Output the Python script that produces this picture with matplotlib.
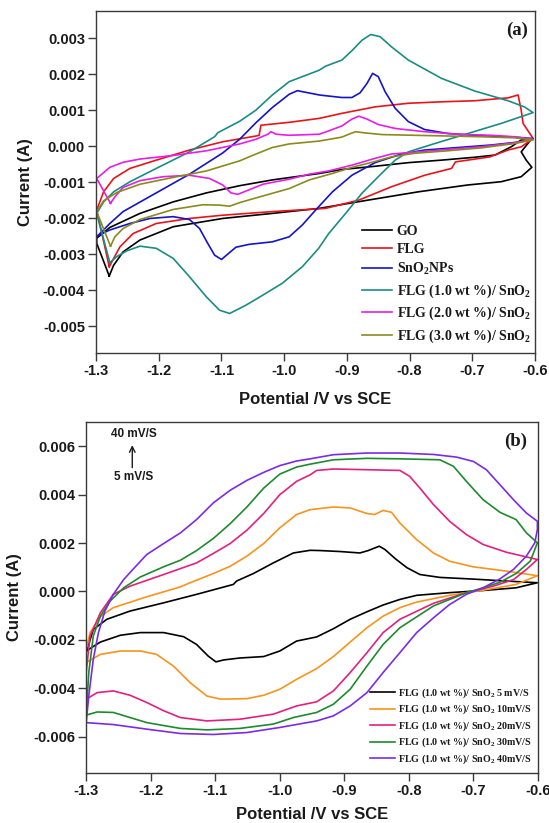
import matplotlib

matplotlib.use("Agg")
import matplotlib.pyplot as plt
import numpy as np

# ---- panel (a): potential (V) / current (mA), traced around each CV loop ----
GO_V = [-1.279, -1.299, -1.299, -1.278, -1.230, -1.177, -1.124, -1.071, -1.019, -0.944,
        -0.908, -0.855, -0.802, -0.749, -0.696, -0.664, -0.638, -0.622, -0.606, -0.622,
        -0.614, -0.605, -0.622, -0.654, -0.707, -0.786, -0.866, -0.944, -1.019, -1.098,
        -1.177, -1.230, -1.257, -1.272, -1.279]
GO_I = [-3.61, -2.70, -2.56, -2.26, -1.87, -1.55, -1.30, -1.10, -0.94, -0.76,
        -0.65, -0.56, -0.46, -0.39, -0.31, -0.25, -0.02, 0.17, 0.19, -0.16,
        -0.39, -0.59, -0.85, -0.99, -1.08, -1.27, -1.50, -1.73, -1.87, -2.01,
        -2.24, -2.61, -2.94, -3.31, -3.61]

FLG_V = [-1.279, -1.299, -1.288, -1.272, -1.246, -1.204, -1.151, -1.098, -1.045, -1.040,
         -1.037, -0.992, -0.944, -0.908, -0.855, -0.802, -0.749, -0.696, -0.643, -0.627,
         -0.622, -0.619, -0.603, -0.622, -0.643, -0.672, -0.727, -0.733, -0.776, -0.829,
         -0.881, -0.934, -1.019, -1.098, -1.151, -1.204, -1.241, -1.262, -1.279]
FLG_I = [-3.35, -1.78, -1.27, -0.90, -0.62, -0.39, -0.11, 0.12, 0.28, 0.30,
         0.58, 0.66, 0.77, 0.91, 1.09, 1.19, 1.23, 1.26, 1.34, 1.42,
         1.00, 0.63, 0.21, -0.02, -0.11, -0.30, -0.44, -0.62, -0.81, -1.13,
         -1.50, -1.73, -1.82, -1.92, -2.01, -2.15, -2.43, -2.80, -3.35]

SNO2_V = [-1.299, -1.278, -1.257, -1.204, -1.151, -1.098, -1.071, -1.045, -1.019, -0.992,
          -0.979, -0.944, -0.934, -0.908, -0.892, -0.879, -0.868, -0.859, -0.850, -0.839,
          -0.823, -0.802, -0.776, -0.739, -0.686, -0.633, -0.603, -0.622, -0.670, -0.723,
          -0.776, -0.813, -0.855, -0.892, -0.923, -0.950, -0.971, -0.992, -1.019, -1.056,
          -1.077, -1.090, -1.100, -1.111, -1.122, -1.135, -1.151, -1.177, -1.214, -1.246,
          -1.278, -1.299]
SNO2_I = [-2.52, -2.15, -1.82, -1.30, -0.78, -0.19, 0.19, 0.65, 1.07, 1.44,
          1.54, 1.42, 1.40, 1.35, 1.35, 1.48, 1.74, 2.02, 1.93, 1.51,
          1.05, 0.68, 0.46, 0.35, 0.29, 0.25, 0.21, 0.12, 0.03, -0.04,
          -0.11, -0.22, -0.46, -0.81, -1.27, -1.78, -2.19, -2.52, -2.66, -2.73,
          -2.81, -3.00, -3.15, -3.03, -2.70, -2.29, -2.04, -1.96, -2.01, -2.15,
          -2.33, -2.50]

F10_V = [-1.278, -1.299, -1.288, -1.272, -1.246, -1.204, -1.151, -1.111, -1.106, -1.071,
         -1.045, -1.019, -0.992, -0.944, -0.934, -0.908, -0.892, -0.876, -0.862, -0.847,
         -0.829, -0.802, -0.749, -0.696, -0.643, -0.617, -0.603, -0.654, -0.707, -0.760,
         -0.802, -0.823, -0.850, -0.876, -0.902, -0.929, -0.945, -0.971, -1.003, -1.034,
         -1.061, -1.087, -1.103, -1.124, -1.151, -1.177, -1.204, -1.230, -1.251, -1.267,
         -1.278]
F10_I = [-3.24, -1.87, -1.55, -1.27, -0.99, -0.62, -0.16, 0.26, 0.37, 0.69,
         1.00, 1.42, 1.79, 2.11, 2.22, 2.39, 2.65, 2.94, 3.10, 3.04,
         2.76, 2.39, 1.88, 1.53, 1.26, 1.09, 0.93, 0.63, 0.35, 0.07,
         -0.16, -0.39, -0.85, -1.31, -1.87, -2.43, -2.84, -3.35, -3.81, -4.14,
         -4.42, -4.65, -4.56, -4.19, -3.63, -3.12, -2.84, -2.78, -2.91, -3.07,
         -3.24]

F20_V = [-1.277, -1.299, -1.278, -1.257, -1.230, -1.177, -1.124, -1.071, -1.045, -1.026,
         -1.021, -1.013, -0.992, -0.944, -0.934, -0.908, -0.892, -0.881, -0.868, -0.850,
         -0.823, -0.776, -0.723, -0.670, -0.633, -0.603, -0.633, -0.686, -0.739, -0.786,
         -0.829, -0.855, -0.892, -0.929, -0.960, -0.992, -1.034, -1.061, -1.074, -1.085,
         -1.098, -1.119, -1.151, -1.193, -1.230, -1.257, -1.270, -1.277]
F20_I = [-1.59, -0.90, -0.59, -0.45, -0.36, -0.26, -0.13, 0.06, 0.19, 0.33,
         0.40, 0.33, 0.30, 0.33, 0.39, 0.56, 0.75, 0.83, 0.75, 0.60,
         0.49, 0.40, 0.33, 0.30, 0.26, 0.19, 0.09, -0.02, -0.09, -0.16,
         -0.22, -0.34, -0.53, -0.69, -0.78, -0.92, -1.06, -1.25, -1.34, -1.30,
         -1.08, -0.90, -0.81, -0.85, -0.96, -1.15, -1.41, -1.59]

F30_V = [-1.277, -1.299, -1.288, -1.267, -1.230, -1.177, -1.124, -1.071, -1.045, -1.019,
         -0.992, -0.944, -0.934, -0.908, -0.894, -0.886, -0.873, -0.844, -0.792, -0.739,
         -0.686, -0.633, -0.603, -0.633, -0.686, -0.739, -0.792, -0.829, -0.860, -0.892,
         -0.923, -0.960, -0.992, -1.045, -1.071, -1.087, -1.103, -1.130, -1.177, -1.230,
         -1.257, -1.270, -1.277]
F30_I = [-2.78, -1.82, -1.52, -1.29, -1.06, -0.87, -0.69, -0.41, -0.22, -0.04,
         0.06, 0.14, 0.17, 0.25, 0.35, 0.40, 0.37, 0.32, 0.30, 0.28,
         0.26, 0.23, 0.17, 0.07, -0.05, -0.13, -0.20, -0.30, -0.45, -0.59,
         -0.76, -0.94, -1.18, -1.44, -1.57, -1.67, -1.64, -1.63, -1.76, -2.04,
         -2.29, -2.52, -2.78]

A_LABELS = ["GO", "FLG", "SnO$_2$NPs", "FLG (1.0 wt %)/ SnO$_2$",
            "FLG (2.0 wt %)/ SnO$_2$", "FLG (3.0 wt %)/ SnO$_2$"]
A_XTICKS = [-1.3, -1.2, -1.1, -1.0, -0.9, -0.8, -0.7, -0.6]
A_YTICKS = [0.003, 0.002, 0.001, 0.0, -0.001, -0.002, -0.003, -0.004, -0.005]

# ---- panel (b): FLG (1.0 wt %)/SnO2 at several scan rates ----
R5_V = [-1.300, -1.289, -1.268, -1.232, -1.180, -1.129, -1.072, -1.067, -1.041, -1.010,
        -0.979, -0.953, -0.938, -0.907, -0.876, -0.863, -0.846, -0.837, -0.821, -0.803,
        -0.783, -0.752, -0.700, -0.649, -0.601, -0.634, -0.685, -0.737, -0.788, -0.814,
        -0.840, -0.865, -0.891, -0.917, -0.943, -0.974, -1.000, -1.025, -1.062, -1.087,
        -1.099, -1.111, -1.129, -1.149, -1.180, -1.216, -1.247, -1.278, -1.300]
R5_I = [-2.53, -1.57, -1.15, -0.81, -0.47, -0.12, 0.29, 0.43, 0.74, 1.18,
        1.59, 1.70, 1.69, 1.65, 1.59, 1.69, 1.87, 1.73, 1.35, 0.98,
        0.70, 0.58, 0.51, 0.43, 0.36, 0.15, 0.04, -0.05, -0.16, -0.33,
        -0.56, -0.84, -1.15, -1.54, -1.88, -2.05, -2.46, -2.69, -2.75, -2.83,
        -2.91, -2.67, -2.19, -1.87, -1.70, -1.70, -1.81, -2.09, -2.46]

R10_V = [-1.300, -1.294, -1.278, -1.258, -1.206, -1.154, -1.139, -1.103, -1.077, -1.051,
         -1.025, -1.000, -0.974, -0.953, -0.943, -0.917, -0.891, -0.865, -0.853, -0.840,
         -0.827, -0.814, -0.788, -0.762, -0.737, -0.701, -0.649, -0.601, -0.634, -0.685,
         -0.737, -0.788, -0.814, -0.840, -0.865, -0.891, -0.917, -0.943, -0.974, -1.000,
         -1.025, -1.051, -1.092, -1.113, -1.139, -1.165, -1.191, -1.216, -1.247, -1.278,
         -1.300, -1.300]
R10_I = [-2.39, -1.70, -1.04, -0.67, -0.22, 0.19, 0.36, 0.74, 1.04, 1.46,
         1.98, 2.63, 3.18, 3.38, 3.41, 3.49, 3.45, 3.22, 3.18, 3.35,
         3.27, 2.83, 2.14, 1.59, 1.25, 1.02, 0.84, 0.65, 0.29, 0.05,
         -0.16, -0.44, -0.67, -1.02, -1.50, -2.09, -2.69, -3.19, -3.63, -4.04,
         -4.29, -4.43, -4.45, -4.32, -3.77, -3.08, -2.60, -2.46, -2.46, -2.60,
         -2.94, -2.39]

R20_V = [-1.300, -1.294, -1.278, -1.258, -1.232, -1.180, -1.129, -1.103, -1.077, -1.051,
         -1.025, -1.000, -0.974, -0.953, -0.943, -0.917, -0.865, -0.814, -0.799, -0.783,
         -0.762, -0.737, -0.711, -0.685, -0.649, -0.601, -0.618, -0.638, -0.669, -0.711,
         -0.762, -0.814, -0.840, -0.865, -0.891, -0.917, -0.943, -0.974, -1.010, -1.062,
         -1.113, -1.154, -1.180, -1.206, -1.232, -1.258, -1.283, -1.300, -1.300]
R20_I = [-3.35, -1.84, -0.88, -0.12, 0.22, 0.70, 1.18, 1.57, 1.98, 2.53,
         3.22, 4.00, 4.55, 4.82, 5.00, 5.06, 5.03, 5.00, 4.76, 4.27,
         3.59, 2.90, 2.35, 1.94, 1.62, 1.32, 0.91, 0.49, 0.22, -0.05,
         -0.49, -1.15, -1.70, -2.53, -3.35, -4.11, -4.56, -4.73, -5.07, -5.28,
         -5.35, -5.21, -4.93, -4.59, -4.29, -4.11, -4.18, -4.45, -3.35]

R30_V = [-1.300, -1.296, -1.289, -1.278, -1.263, -1.242, -1.216, -1.180, -1.154, -1.129,
         -1.103, -1.077, -1.051, -1.025, -1.000, -0.974, -0.953, -0.917, -0.865, -0.814,
         -0.752, -0.731, -0.711, -0.685, -0.659, -0.634, -0.618, -0.601, -0.605, -0.612,
         -0.634, -0.659, -0.685, -0.711, -0.762, -0.814, -0.840, -0.865, -0.891, -0.917,
         -0.943, -0.979, -1.010, -1.062, -1.113, -1.154, -1.206, -1.232, -1.258, -1.283,
         -1.300]
R30_I = [-5.14, -3.35, -1.84, -1.02, -0.40, 0.15, 0.60, 1.02, 1.29, 1.69,
         2.19, 2.80, 3.49, 4.27, 4.85, 5.14, 5.26, 5.44, 5.50, 5.48,
         5.44, 5.17, 4.55, 3.79, 3.27, 2.97, 2.42, 2.01, 1.73, 1.25,
         0.74, 0.38, 0.15, -0.05, -0.60, -1.50, -2.19, -3.08, -4.04, -4.66,
         -5.00, -5.21, -5.48, -5.66, -5.72, -5.66, -5.42, -5.21, -5.00, -4.98,
         -5.11]

R40_V = [-1.300, -1.296, -1.289, -1.281, -1.271, -1.258, -1.242, -1.227, -1.206, -1.180,
         -1.154, -1.129, -1.103, -1.077, -1.051, -1.025, -1.000, -0.974, -0.953, -0.917,
         -0.865, -0.814, -0.762, -0.726, -0.700, -0.680, -0.659, -0.638, -0.618, -0.601,
         -0.601, -0.605, -0.618, -0.638, -0.659, -0.685, -0.711, -0.737, -0.762, -0.788,
         -0.814, -0.840, -0.865, -0.891, -0.917, -0.943, -1.000, -1.051, -1.103, -1.154,
         -1.206, -1.258, -1.300]
R40_I = [-5.42, -4.32, -2.80, -1.70, -0.81, -0.12, 0.49, 0.93, 1.53, 1.98,
         2.42, 2.97, 3.66, 4.18, 4.59, 4.92, 5.20, 5.39, 5.48, 5.65,
         5.72, 5.72, 5.66, 5.55, 5.37, 5.03, 4.41, 3.79, 3.24, 2.90,
         2.56, 2.01, 1.46, 0.91, 0.52, 0.15, -0.12, -0.54, -1.09, -1.70,
         -2.53, -3.35, -4.18, -4.73, -5.14, -5.35, -5.62, -5.83, -5.91, -5.87,
         -5.69, -5.50, -5.42]

B_LABELS = ["FLG (1.0 wt %)/ SnO$_2$ 5 mV/S", "FLG (1.0 wt %)/ SnO$_2$ 10mV/S",
            "FLG (1.0 wt %)/ SnO$_2$ 20mV/S", "FLG (1.0 wt %)/ SnO$_2$ 30mV/S",
            "FLG (1.0 wt %)/ SnO$_2$ 40mV/S"]
B_XTICKS = [-1.3, -1.2, -1.1, -1.0, -0.9, -0.8, -0.7, -0.6]
B_YTICKS = [0.006, 0.004, 0.002, 0.0, -0.002, -0.004, -0.006]

A_COLORS = ["#000000", "#E8141C", "#1414C8", "#1B8C85", "#E61EE6", "#8A8A1E"]
B_COLORS = ["#000000", "#F7941D", "#E4207E", "#1E8A2E", "#7B2BE6"]
FRAME = "#3A3A3A"
TEXT = "#1A1A1A"


def style_axes(ax, xticks, yticks):
    ax.set_xlim(-1.3, -0.6)
    ax.set_xticks(xticks, [f"{v:.1f}" for v in xticks])
    ax.set_yticks(yticks, [f"{v:.3f}" for v in yticks])
    ax.tick_params(direction="out", length=6, width=1.0, color=FRAME,
                   labelsize=10.5, labelcolor=TEXT, pad=2)
    for lab in ax.get_xticklabels() + ax.get_yticklabels():
        lab.set_fontweight("bold")
    for sp in ax.spines.values():
        sp.set_color(FRAME)
        sp.set_linewidth(1.0)
    ax.set_xlabel("Potential /V vs SCE", fontsize=12, fontweight="bold", color=TEXT)
    ax.set_ylabel("Current (A)", fontsize=12, fontweight="bold", color=TEXT)


def main() -> None:
    plt.rcParams.update(
        {
            "font.family": ["Liberation Sans", "DejaVu Sans"],
            "mathtext.fontset": "custom",
            "mathtext.rm": "Liberation Serif:bold",
            "mathtext.bf": "Liberation Serif:bold",
            "mathtext.default": "rm",
        }
    )
    fig = plt.figure(figsize=(5.49, 8.23), dpi=100)

    # panel (a)
    ax = fig.add_axes([0.175, 0.571, 0.7995, 0.4155])
    a_series = [(GO_V, GO_I), (FLG_V, FLG_I), (SNO2_V, SNO2_I),
                (F10_V, F10_I), (F20_V, F20_I), (F30_V, F30_I)]
    for (v, i), label, color in zip(a_series, A_LABELS, A_COLORS):
        ax.plot(v, np.array(i) * 1e-3, color=color, lw=1.2, label=label,
                solid_joinstyle="round")
    ax.set_ylim(-0.00575, 0.00375)
    style_axes(ax, A_XTICKS, A_YTICKS)
    ax.yaxis.set_label_coords(-0.143, 0.5)
    ax.xaxis.set_label_coords(0.5, -0.115)
    ax.text(0.984, 0.944, "(a)", transform=ax.transAxes, ha="right", va="center",
            fontsize=13.5, fontweight="bold", family="Liberation Serif", color=TEXT)
    ax.legend(loc="lower right", bbox_to_anchor=(1.006, 0.003), frameon=False,
              prop={"family": "Liberation Serif", "weight": "bold", "size": 10},
              handlelength=2.2, handletextpad=0.3, labelspacing=0.38,
              borderpad=0, labelcolor=TEXT)

    # panel (b)
    bx = fig.add_axes([0.157, 0.0608, 0.823, 0.4264])
    b_series = [(R5_V, R5_I), (R10_V, R10_I), (R20_V, R20_I),
                (R30_V, R30_I), (R40_V, R40_I)]
    for (v, i), label, color in zip(b_series, B_LABELS, B_COLORS):
        bx.plot(v, np.array(i) * 1e-3, color=color, lw=1.2, label=label,
                solid_joinstyle="round")
    bx.set_ylim(-0.0075, 0.0070)
    style_axes(bx, B_XTICKS, B_YTICKS)
    bx.yaxis.set_label_coords(-0.142, 0.5)
    bx.xaxis.set_label_coords(0.5, -0.098)
    bx.text(0.976, 0.946, "(b)", transform=bx.transAxes, ha="right", va="center",
            fontsize=13.5, fontweight="bold", family="Liberation Serif", color=TEXT)
    bx.text(0.106, 0.966, "40 mV/S", transform=bx.transAxes, ha="center",
            va="center", fontsize=8.5, fontweight="bold", color=TEXT)
    bx.text(0.106, 0.843, "5 mV/S", transform=bx.transAxes, ha="center",
            va="center", fontsize=8.5, fontweight="bold", color=TEXT)
    bx.annotate("", xy=(0.102, 0.942), xytext=(0.102, 0.862),
                xycoords="axes fraction",
                arrowprops={"arrowstyle": "->", "color": TEXT, "lw": 1.0})
    bx.legend(loc="lower right", bbox_to_anchor=(0.997, 0.006), frameon=False,
              prop={"family": "Liberation Serif", "weight": "bold", "size": 7.2},
              handlelength=2.5, handletextpad=0.3, labelspacing=0.3,
              borderpad=0, labelcolor=TEXT)

    fig.savefig("out.png", dpi=100)


if __name__ == "__main__":
    main()
